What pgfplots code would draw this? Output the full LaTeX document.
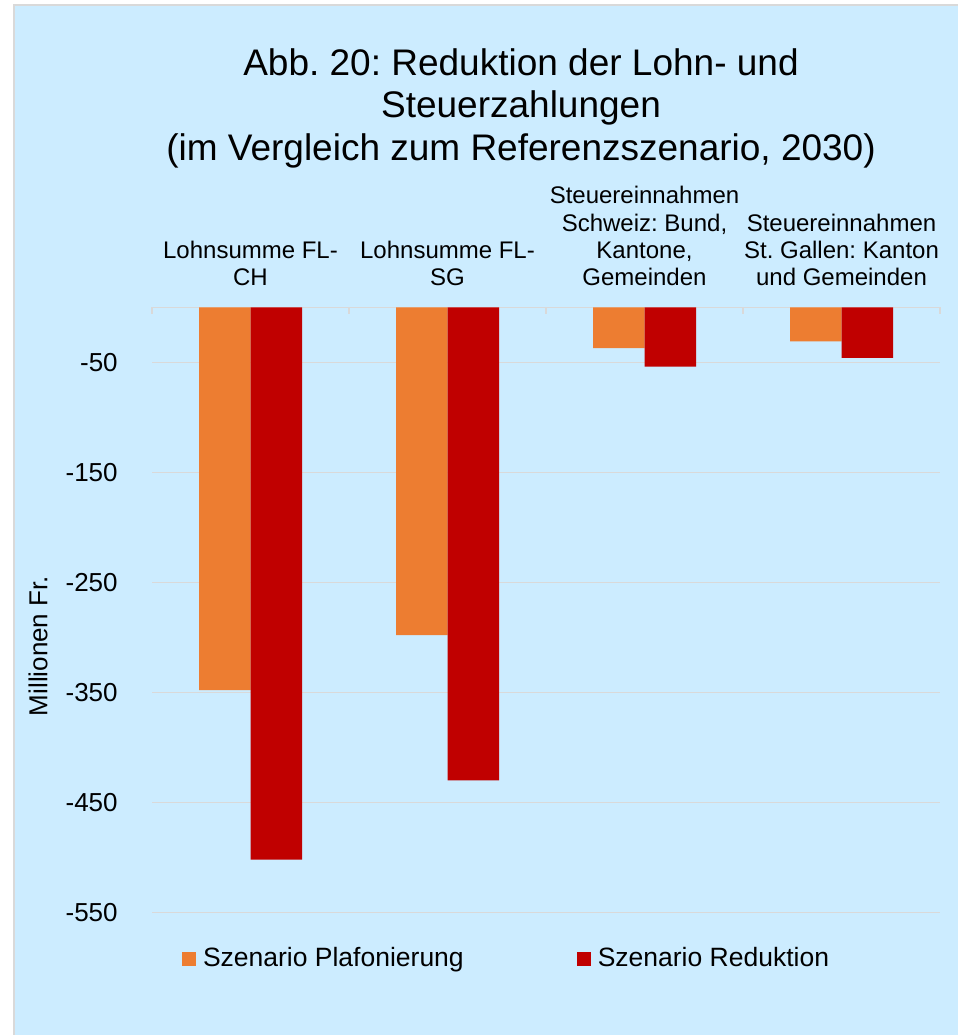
\documentclass[border=0pt]{standalone}
\usepackage{fontspec}
\setmainfont{Liberation Sans}
\usepackage{pgfplots}
\pgfplotsset{compat=1.18}
\definecolor{bgblue}{HTML}{CCECFF}
\definecolor{gridgray}{HTML}{D9D9D9}
\definecolor{orng}{HTML}{ED7D31}
\definecolor{dred}{HTML}{C00000}
\frenchspacing
\begin{document}
\frenchspacing
\begin{tikzpicture}
\fill[white] (0bp,0bp) rectangle (958bp,-1035bp);
\fill[bgblue] (14bp,-5bp) rectangle (958bp,-1035bp);
\draw[gridgray, line width=2bp] (14bp,-1035bp) -- (14bp,-5bp) -- (958bp,-5bp);
\begin{scope}[every node/.style={font=\fontsize{37bp}{42.5bp}\selectfont, anchor=base, inner sep=0pt}]
\node at (521bp,-75bp) {Abb. 20: Reduktion der Lohn- und};
\node at (521bp,-117.3bp) {Steuerzahlungen};
\node at (521bp,-160bp) {(im Vergleich zum Referenzszenario, 2030)};
\end{scope}
\begin{axis}[
  at={(152bp,-912.3bp)}, anchor=south west,
  scale only axis, width=788bp, height=605bp,
  xmin=-0.5, xmax=3.5, ymin=-550, ymax=0,
  axis x line=top, axis y line=left,
  axis line style={-},
  x axis line style={draw=gridgray, line width=1.5bp},
  y axis line style={draw=none},
  ybar=0pt, bar width=51.5bp,
  xtick={0,1,2,3},
  xticklabels={{Lohnsumme FL-\\CH},{Lohnsumme FL-\\SG},{Steuereinnahmen\\Schweiz: Bund,\\Kantone,\\Gemeinden},{Steuereinnahmen\\St. Gallen: Kanton\\und Gemeinden}},
  major x tick style={draw=none},
  minor xtick={-0.5,0.5,1.5,2.5,3.5},
  minor x tick style={draw=gridgray, line width=1.5bp},
  minor tick length=6.5bp,
  xtick align=inside,
  xticklabel style={font=\fontsize{24bp}{27.3bp}\selectfont, align=center, anchor=south, inner sep=0pt, yshift=21bp},
  ytick={-550,-450,-350,-250,-150,-50},
  yticklabels={-550,-450,-350,-250,-150,-50},
  ytick style={draw=none},
  yticklabel style={font=\fontsize{26bp}{30bp}\selectfont, anchor=east, inner sep=0pt, xshift=-32bp},
  ymajorgrids,
  grid style={draw=gridgray, line width=1.5bp},
  ylabel={Millionen Fr.},
  every axis y label/.style={at={(axis description cs:-0.1447,0.44)}, rotate=90, anchor=center, font=\fontsize{26bp}{30bp}\selectfont},
  legend columns=2,
  legend image code/.code={\fill[#1] (0bp,-8bp) rectangle (14bp,6bp);},
  legend style={at={(axis description cs:0.0381,-0.0755)}, anchor=west, draw=none, fill=none, inner sep=0pt, outer sep=0pt,
    font=\fontsize{26.5bp}{30bp}\selectfont,
    nodes={inner sep=0pt},
    /tikz/every odd column/.append style={column sep=7bp},
    /tikz/every even column/.append style={column sep=113bp}},
]
\addplot[fill=orng, draw=none] coordinates {(0,-348) (1,-298) (2,-37) (3,-31)};
\addplot[fill=dred, draw=none] coordinates {(0,-502) (1,-430) (2,-54) (3,-46)};
\legend{Szenario Plafonierung, Szenario Reduktion}
\end{axis}
\pgfresetboundingbox
\path[use as bounding box] (0bp,0bp) rectangle (958bp,-1035bp);
\end{tikzpicture}
\end{document}
